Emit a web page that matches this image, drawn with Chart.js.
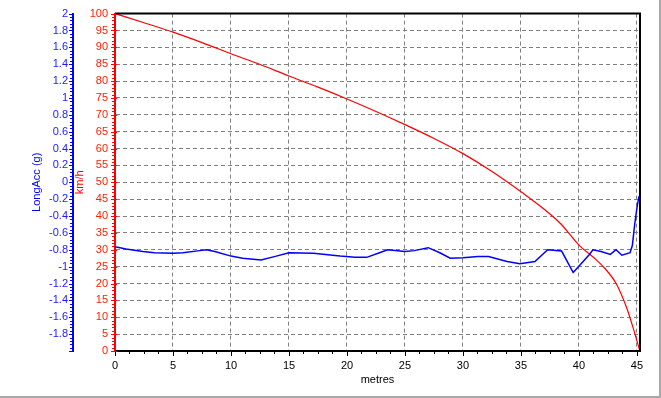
<!DOCTYPE html>
<html><head><meta charset="utf-8">
<script src="https://cdn.jsdelivr.net/npm/chart.js@4"></script>
<style>
html,body{margin:0;padding:0;background:#fff;}
#wrap{width:659px;height:396px;border-right:2px solid #a8a8a8;border-bottom:2px solid #a8a8a8;}
canvas{display:block;}
</style></head><body>
<div id="wrap"><canvas id="c" width="659" height="396"></canvas></div>
<script>
// Speed trace (km/h) against distance (metres)
const redMetres = [0, 2.5, 5, 7.5, 10, 12.5, 15, 17.5, 20, 22.5, 25, 27.5, 30, 32.5, 35, 37, 38.4, 40, 41.5, 42.2, 43.2, 44.1, 44.7, 45.25];
const redSpeed  = [100, 97.3, 94.5, 91.4, 88.1, 84.9, 81.5, 78.2, 74.7, 71, 67.1, 63, 58.5, 53.2, 47.2, 42, 37.8, 31.4, 27, 24.6, 20, 12.9, 6.5, 0];

// Longitudinal acceleration (g) against distance (metres)
const blueMetres = [0, 0.95, 2.4, 3.4, 5, 5.85, 7.3, 7.9, 8.6, 10, 11, 12.6, 13.9, 15, 17.1, 19.4, 20.7, 21.7, 22.8, 23.5, 25, 25.8, 27, 28, 28.9, 30, 31.3, 32.2, 33.8, 34.9, 36.2, 37.3, 38.5, 39.5, 40.9, 41.2, 41.9, 42.7, 43.2, 43.7, 44.4, 44.6, 44.8, 45.0, 45.15, 45.25];
const blueAcc    = [-0.765, -0.79, -0.82, -0.835, -0.84, -0.835, -0.81, -0.80, -0.82, -0.875, -0.9, -0.92, -0.875, -0.835, -0.84, -0.875, -0.89, -0.89, -0.835, -0.80, -0.82, -0.81, -0.775, -0.835, -0.90, -0.895, -0.88, -0.88, -0.94, -0.965, -0.94, -0.80, -0.815, -1.07, -0.855, -0.80, -0.82, -0.855, -0.80, -0.865, -0.835, -0.75, -0.5, -0.3, -0.18, -0.15];

// Axis settings
const xRange = [0, 45.26];
const xStep = 5;
const speedRange = [0, 100];
const speedStep = 5;
const accRange = [-2, 2];
const accStep = 0.2;
const axisTitles = { x: 'metres', speed: 'km/h', acc: 'LongAcc (g)' };

const FONT = { family: "'Liberation Sans', Arial, sans-serif", size: 11 };

const framePlugin = {
  id: 'frame',
  afterDraw(chart) {
    const c = chart.ctx, a = chart.chartArea;
    const xs = chart.scales.x, ys = chart.scales.ySpeed, ya = chart.scales.yAcc;
    c.save();
    c.strokeStyle = '#000'; c.lineWidth = 2;
    c.beginPath(); c.moveTo(a.left, a.top); c.lineTo(a.right, a.top); c.lineTo(a.right, a.bottom); c.stroke();
    c.lineWidth = 1;
    c.strokeStyle = '#ff0000';
    for (let v = speedRange[0]; v <= speedRange[1]; v += 1) {
      const y = Math.round(ys.getPixelForValue(v)) + 0.5;
      const major = v % 5 === 0;
      c.beginPath(); c.moveTo(a.left - (major ? 4 : 3), y); c.lineTo(a.left + (major ? 2 : 0), y); c.stroke();
    }
    c.strokeStyle = '#0000ff';
    const bx = ya.right;
    for (let i = 0; i <= 100; i++) {
      const v = accRange[0] + i * 0.04;
      const y = Math.round(ya.getPixelForValue(v)) + 0.5;
      const major = i % 5 === 0;
      c.beginPath(); c.moveTo(bx - (major ? 4 : 3), y); c.lineTo(bx, y); c.stroke();
    }
    c.strokeStyle = '#000';
    for (let i = 0; i <= 36; i++) {
      const v = i * 1.25;
      const x = Math.round(xs.getPixelForValue(v)) + 0.5;
      const major = i % 4 === 0;
      c.beginPath(); c.moveTo(x, a.bottom); c.lineTo(x, a.bottom + (major ? 5 : 3)); c.stroke();
    }
    c.restore();
  }
};

new Chart(document.getElementById('c'), {
  type: 'line',
  data: {
    datasets: [
      {
        label: 'LongAcc',
        data: blueMetres.map((m, i) => ({ x: m, y: blueAcc[i] })),
        yAxisID: 'yAcc',
        borderColor: '#0000ff', borderWidth: 1.5,
        pointRadius: 0, tension: 0, fill: false
      },
      {
        label: 'km/h',
        data: redMetres.map((m, i) => ({ x: m, y: redSpeed[i] })),
        yAxisID: 'ySpeed',
        borderColor: '#ff0000', borderWidth: 1.2,
        pointRadius: 0, cubicInterpolationMode: 'monotone', fill: false
      }
    ]
  },
  options: {
    responsive: false, animation: false, devicePixelRatio: 1,
    layout: { padding: { left: 25, right: 19, top: 12, bottom: 5 } },
    plugins: { legend: { display: false }, tooltip: { enabled: false } },
    scales: {
      x: {
        type: 'linear', position: 'bottom', min: xRange[0], max: xRange[1],
        ticks: { stepSize: xStep, includeBounds: false, autoSkip: false, maxRotation: 0, color: '#000', font: FONT, padding: 8 },
        grid: { color: '#808080', lineWidth: 1, drawTicks: false },
        border: { display: true, color: '#000', width: 2, dash: [4, 3] },
        title: { display: true, text: axisTitles.x, color: '#000', font: FONT, padding: { top: 0, bottom: 4 } },
        afterFit(s) { s.height = 40; }
      },
      ySpeed: {
        type: 'linear', position: 'left', weight: 0, min: speedRange[0], max: speedRange[1],
        ticks: { stepSize: speedStep, autoSkip: false, color: '#ff2000', font: FONT, padding: 7 },
        grid: { color: '#808080', lineWidth: 1, drawTicks: false },
        border: { display: true, color: '#ff0000', width: 2, dash: [4, 3] },
        title: { display: true, text: axisTitles.speed, color: '#ff0000', font: FONT, padding: { top: 0, bottom: 0 } },
        afterFit(s) { s.width = 42; }
      },
      yAcc: {
        type: 'linear', position: 'left', weight: 1, min: accRange[0], max: accRange[1],
        ticks: {
          stepSize: accStep, autoSkip: false, color: '#1a1aff', font: FONT, padding: 5,
          callback: (v) => v < -1.99 ? '' : String(Math.round(v * 10) / 10)
        },
        grid: { drawOnChartArea: false, drawTicks: false },
        border: { display: true, color: '#0000ff', width: 2 },
        title: { display: true, text: axisTitles.acc, color: '#0000ff', font: FONT, padding: { top: 5, bottom: 0 } },
        afterFit(s) { s.width = 48; }
      }
    }
  },
  plugins: [framePlugin]
});
</script>
</body></html>
